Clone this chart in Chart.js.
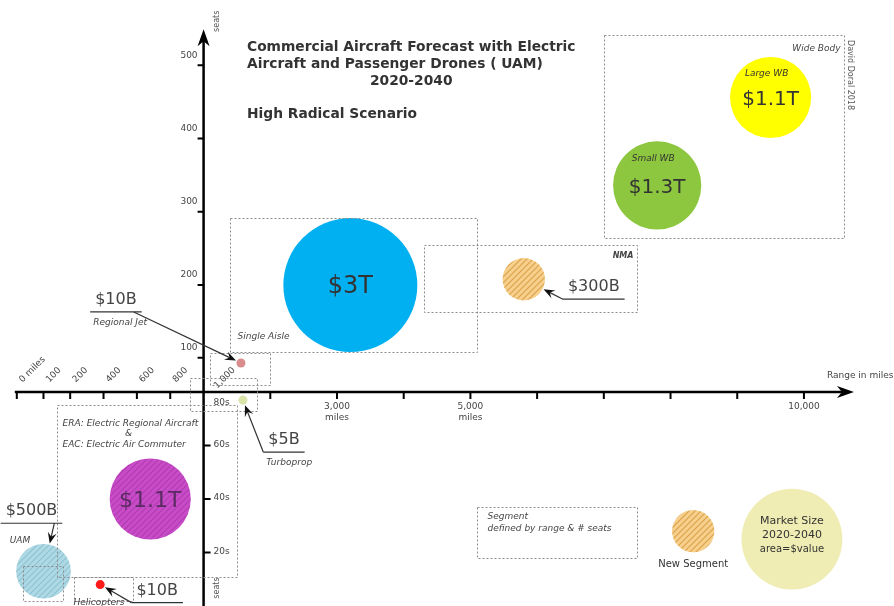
<!DOCTYPE html>
<html>
<head>
<meta charset="utf-8">
<script src="https://cdn.jsdelivr.net/npm/chart.js@4/dist/chart.umd.min.js"></script>
<style>
  html, body { margin: 0; padding: 0; background: #fff; overflow: hidden; }
  canvas { display: block; }
</style>
</head>
<body>
<canvas id="chart" width="894" height="606"></canvas>
<script>
// axis breaks - short ranges and low seat counts are stretched in this picture
const rangeTicks = [0, 100, 200, 400, 600, 800, 1000, 2000, 3000, 4000, 5000, 6000, 7000, 8000, 9000, 10000];
const rangeTickLabels = ['0 miles', '100', '200', '400', '600', '800', '1,000', '', '3,000\nmiles', '', '5,000\nmiles', '', '', '', '', '10,000'];
const rangeSteps = [-1.8, -1.4, -1, -0.5, 0, 0.5, 1, 2, 3, 4, 5, 6, 7, 8, 9, 10];
const seatTicks = [0, 20, 40, 60, 80, 100, 200, 300, 400, 500];
const seatTickLabels = ['', '20s', '40s', '60s', '80s', '100', '200', '300', '400', '500'];
const seatSteps = [0, 1, 2, 3, 4, 4.64, 6, 7.37, 8.74, 10.11];

// market bubbles (range in miles, seats, market 2020-2040 in $B)
const segments = ['Single Aisle', 'Small WB', 'Large WB', 'NMA', 'Regional Jet', 'Turboprop', 'ERA & EAC', 'UAM', 'Helicopters'];
const bubbleRange = [3200, 7800, 9500, 5800, 1560, 1590, 680, 100, 380];
const bubbleSeats = [200, 336, 456, 208, 97, 77, 40, 13, 8];
const marketValueB = [3000, 1300, 1100, 300, 10, 5, 1100, 500, 10];
const valueLabels = ['$3T', '$1.3T', '$1.1T', '$300B', '$10B', '$5B', '$1.1T', '$500B', '$10B'];

// segment boxes (range & seats)
const boxNames = ['Single Aisle', 'NMA', 'Wide Body', 'Regional Jet', 'Turboprop', 'ERA & EAC', 'UAM', 'Helicopters', 'Segment'];
const boxRangeFrom = [1400, 4300, 7000, 1100, 920, 150, 22, 224, 5100];
const boxRangeTo = [5100, 7500, 10600, 2000, 1800, 1500, 172, 577, 7500];
const boxSeatsFrom = [108, 163, 264, 84, 73, 11, 2, 2, 18];
const boxSeatsTo = [291, 255, 541, 107, 88, 75, 15, 11, 37];

// legend bubbles
const legendNames = ['New Segment', 'Market Size'];
const legendRange = [8340, 9820];
const legendSeats = [28, 25];
const legendValueB = [300, 1700];

function interp(v, xs, ys) {
  let i = 1;
  while (i < xs.length - 1 && v > xs[i]) i++;
  const t = (v - xs[i - 1]) / (xs[i] - xs[i - 1]);
  return ys[i - 1] + t * (ys[i] - ys[i - 1]);
}
const rangePos = m => interp(m, rangeTicks, rangeSteps);
const seatPos = s => interp(s, seatTicks, seatSteps);
// area = $value
const radius = v => Math.max(4.5, 1.223 * Math.sqrt(v));

function hatch(base, stripe) {
  const c = document.createElement('canvas');
  c.width = c.height = 6;
  const g = c.getContext('2d');
  g.fillStyle = base;
  g.fillRect(0, 0, 6, 6);
  g.strokeStyle = stripe;
  g.lineWidth = 1.2;
  g.beginPath();
  g.moveTo(0, 6); g.lineTo(6, 0);
  g.moveTo(-3, 3); g.lineTo(3, -3);
  g.moveTo(3, 9); g.lineTo(9, 3);
  g.stroke();
  return g.createPattern(c, 'repeat');
}

const newSegFill = hatch('#f6d08c', '#dca24c');
const bubbleFill = ['#00b0f0', '#8dc63f', '#ffff00', newSegFill, '#d98c8c', '#d8e4a8',
  hatch('#c84cc8', '#b23cb2'), hatch('#afd9e4', '#8ec3d3'), '#ff1a1a'];
const legendFill = [newSegFill, '#efedb3'];

// label layout
const labelMode = ['inside', 'inside', 'inside', 'callout', 'callout', 'callout', 'inside', 'callout', 'callout'];
const calloutDx = [0, 0, 0, 70, -125, 41, 0, -12, 57];
const calloutDy = [0, 0, 0, 8, -63, 40, 0, -60, 6];
const innerSize = [24, 20, 20, 0, 0, 0, 22, 0, 0];
const innerColor = ['#333', '#333', '#333', '', '', '', '#5a2a62', '', ''];
const bubbleCaption = ['', 'Small WB', 'Large WB', '', 'Regional Jet', 'Turboprop', '', 'UAM', ''];
const boxCaption = ['Single Aisle', 'NMA', 'Wide Body', '', '', 'ERA: Electric Regional Aircraft\n&\nEAC: Electric Air Commuter', '', 'Helicopters', 'Segment\ndefined by range & # seats'];
const boxCorner = ['bl', 'tr', 'tr', '', '', 'tl', '', 'below', 'tl'];

const FONT = '"DejaVu Sans", Verdana, sans-serif';

function drawAxes(chart) {
  const ctx = chart.ctx;
  const X = m => chart.scales.x.getPixelForValue(rangePos(m));
  const Y = s => chart.scales.y.getPixelForValue(seatPos(s));
  const ax = X(1000), ay = Y(80);
  ctx.save();
  ctx.strokeStyle = '#000';
  ctx.fillStyle = '#000';
  ctx.lineWidth = 2.5;
  // range axis
  const tipX = X(10000) + 50;
  ctx.beginPath();
  ctx.moveTo(X(0) - 2, ay);
  ctx.lineTo(tipX - 10, ay);
  ctx.stroke();
  ctx.beginPath();
  ctx.moveTo(tipX, ay);
  ctx.lineTo(tipX - 17, ay - 6);
  ctx.lineTo(tipX - 12, ay);
  ctx.lineTo(tipX - 17, ay + 6);
  ctx.closePath();
  ctx.fill();
  // seats axis
  const tipY = Y(500) - 36;
  ctx.beginPath();
  ctx.moveTo(ax, chart.chartArea.bottom);
  ctx.lineTo(ax, tipY + 10);
  ctx.stroke();
  ctx.beginPath();
  ctx.moveTo(ax, tipY);
  ctx.lineTo(ax - 6, tipY + 17);
  ctx.lineTo(ax, tipY + 12);
  ctx.lineTo(ax + 6, tipY + 17);
  ctx.closePath();
  ctx.fill();

  ctx.lineWidth = 2;
  ctx.beginPath();
  rangeTicks.forEach(m => {
    if (m === 1000) return;
    ctx.moveTo(X(m), ay);
    ctx.lineTo(X(m), ay + 7);
  });
  seatTicks.forEach(s => {
    if (s > 80) { ctx.moveTo(ax - 6, Y(s)); ctx.lineTo(ax, Y(s)); }
    else if (s > 0 && s < 80) { ctx.moveTo(ax, Y(s)); ctx.lineTo(ax + 7, Y(s)); }
  });
  ctx.stroke();

  // tick labels
  ctx.fillStyle = '#444';
  ctx.font = '9px ' + FONT;
  rangeTicks.forEach((m, i) => {
    const txt = rangeTickLabels[i];
    if (!txt) return;
    if (m <= 1000) {
      ctx.save();
      if (m === 1000) ctx.translate(X(m) + 12, ay - 5);
      else ctx.translate(X(m) + 4, ay - 11);
      ctx.rotate(-Math.PI / 4);
      ctx.textAlign = 'left';
      ctx.textBaseline = 'middle';
      ctx.fillText(txt, 0, 0);
      ctx.restore();
    } else {
      ctx.textAlign = 'center';
      ctx.textBaseline = 'middle';
      txt.split('\n').forEach((t, k) => ctx.fillText(t, X(m), ay + 15 + k * 11));
    }
  });
  seatTicks.forEach((s, i) => {
    const txt = seatTickLabels[i];
    if (!txt) return;
    ctx.textBaseline = 'middle';
    if (s > 80) {
      ctx.textAlign = 'right';
      ctx.fillText(txt, ax - 6, Y(s) - 10);
    } else {
      ctx.textAlign = 'left';
      ctx.fillText(txt, ax + 10, s === 80 ? Y(s) + 11 : Y(s) - 1);
    }
  });
  ctx.textAlign = 'left';
  ctx.fillText('Range in miles', X(10000) + 23, ay - 16);
  // seats captions
  ctx.font = '8px ' + FONT;
  ctx.fillStyle = '#555';
  [[tipY - 8], [chart.chartArea.bottom - 18]].forEach(([cy]) => {
    ctx.save();
    ctx.translate(ax + 13, cy);
    ctx.rotate(-Math.PI / 2);
    ctx.textAlign = 'center';
    ctx.textBaseline = 'middle';
    ctx.fillText('seats', 0, 0);
    ctx.restore();
  });
  ctx.restore();
}

function drawBoxes(chart) {
  const ctx = chart.ctx;
  const X = m => chart.scales.x.getPixelForValue(rangePos(m));
  const Y = s => chart.scales.y.getPixelForValue(seatPos(s));
  ctx.save();
  ctx.strokeStyle = '#8c8c8c';
  ctx.lineWidth = 1;
  ctx.setLineDash([2, 2]);
  boxNames.forEach((n, i) => {
    const x0 = Math.round(X(boxRangeFrom[i])) + 0.5, x1 = Math.round(X(boxRangeTo[i])) + 0.5;
    const y0 = Math.round(Y(boxSeatsTo[i])) + 0.5, y1 = Math.round(Y(boxSeatsFrom[i])) + 0.5;
    ctx.strokeRect(x0, y0, x1 - x0, y1 - y0);
    const cap = boxCaption[i];
    if (!cap) return;
    ctx.fillStyle = '#444';
    ctx.textBaseline = 'middle';
    const lines = cap.split('\n');
    if (boxCorner[i] === 'bl') {
      ctx.font = 'italic 9px ' + FONT;
      ctx.textAlign = 'left';
      ctx.fillText(cap, x0 + 7, y1 - 16);
    } else if (boxCorner[i] === 'tr') {
      ctx.font = (n === 'NMA' ? 'italic bold 8px ' : 'italic 9px ') + FONT;
      ctx.textAlign = 'right';
      ctx.fillText(cap, x1 - 4, y0 + (n === 'NMA' ? 10 : 13));
    } else if (boxCorner[i] === 'tl') {
      ctx.font = 'italic 9px ' + FONT;
      ctx.textAlign = 'left';
      const top = n === 'Segment' ? 9 : 18;
      lines.forEach((t, k) => {
        if (t === '&') { ctx.textAlign = 'center'; ctx.fillText(t, x0 + 71, y0 + top + k * 10.5); ctx.textAlign = 'left'; }
        else ctx.fillText(t, x0 + (n === 'Segment' ? 10 : 5), y0 + top + k * (n === 'Segment' ? 12 : 10.5));
      });
    } else if (boxCorner[i] === 'below') {
      ctx.font = 'italic 9px ' + FONT;
      ctx.textAlign = 'left';
      ctx.fillText(cap, x0 - 1, y1 + 1);
    }
  });
  ctx.restore();
}

function arrow(ctx, sx, sy, ex, ey) {
  const a = Math.atan2(ey - sy, ex - sx);
  ctx.beginPath();
  ctx.moveTo(sx, sy);
  ctx.lineTo(ex - Math.cos(a) * 4, ey - Math.sin(a) * 4);
  ctx.stroke();
  ctx.beginPath();
  ctx.moveTo(ex, ey);
  ctx.lineTo(ex - 12 * Math.cos(a - 0.38), ey - 12 * Math.sin(a - 0.38));
  ctx.lineTo(ex - 7 * Math.cos(a), ey - 7 * Math.sin(a));
  ctx.lineTo(ex - 12 * Math.cos(a + 0.38), ey - 12 * Math.sin(a + 0.38));
  ctx.closePath();
  ctx.fill();
}

function drawLabels(chart) {
  const ctx = chart.ctx;
  const pts = chart.getDatasetMeta(0).data;
  ctx.save();
  segments.forEach((s, i) => {
    const p = pts[i];
    const r = radius(marketValueB[i]);
    if (labelMode[i] === 'inside') {
      ctx.textAlign = 'center';
      ctx.textBaseline = 'middle';
      ctx.fillStyle = innerColor[i];
      ctx.font = innerSize[i] + 'px ' + FONT;
      ctx.fillText(valueLabels[i], p.x, p.y + 2);
      if (bubbleCaption[i]) {
        ctx.font = 'italic 9px ' + FONT;
        ctx.fillStyle = '#333';
        ctx.fillText(bubbleCaption[i], p.x - 4, p.y - r * 0.6);
      }
    } else {
      const lx = p.x + calloutDx[i], ly = p.y + calloutDy[i];
      ctx.font = '16px ' + FONT;
      ctx.fillStyle = '#444';
      ctx.textAlign = 'center';
      ctx.textBaseline = 'middle';
      ctx.fillText(valueLabels[i], lx, ly);
      const w = ctx.measureText(valueLabels[i]).width;
      const uy = ly + 12, ul = lx - w / 2 - 5, ur = lx + w / 2 + 5;
      ctx.strokeStyle = '#333';
      ctx.fillStyle = '#111';
      ctx.lineWidth = 1.2;
      ctx.beginPath();
      ctx.moveTo(ul, uy);
      ctx.lineTo(ur, uy);
      ctx.stroke();
      const sx = calloutDx[i] < 0 ? ur - 8 : ul;
      const a = Math.atan2(uy - p.y, sx - p.x);
      arrow(ctx, sx, uy, p.x + Math.cos(a) * (r + 1), p.y + Math.sin(a) * (r + 1));
      if (bubbleCaption[i]) {
        ctx.font = 'italic 9px ' + FONT;
        ctx.fillStyle = '#444';
        ctx.textAlign = 'left';
        if (i === 7) ctx.fillText(bubbleCaption[i], ul + 9, uy + 17);
        else ctx.fillText(bubbleCaption[i], ul + 3, uy + 11);
      }
    }
  });

  // legend texts
  const lp = chart.getDatasetMeta(1).data;
  ctx.fillStyle = '#333';
  ctx.textAlign = 'center';
  ctx.textBaseline = 'middle';
  ctx.font = '10px ' + FONT;
  ctx.fillText(legendNames[0], lp[0].x, lp[0].y + radius(legendValueB[0]) + 12);
  ctx.font = '11px ' + FONT;
  ctx.fillText(legendNames[1], lp[1].x, lp[1].y - 18);
  ctx.fillText('2020-2040', lp[1].x, lp[1].y - 4);
  ctx.font = '10px ' + FONT;
  ctx.fillText('area=$value', lp[1].x, lp[1].y + 10);

  // title
  ctx.fillStyle = '#333';
  ctx.font = 'bold 13.8px ' + FONT;
  ctx.textAlign = 'left';
  ctx.fillText('Commercial Aircraft Forecast with Electric', 247, 47);
  ctx.fillText('Aircraft and Passenger Drones ( UAM)', 247, 64);
  const w1 = ctx.measureText('Commercial Aircraft Forecast with Electric').width;
  ctx.textAlign = 'center';
  ctx.fillText('2020-2040', 247 + w1 / 2, 81);
  ctx.textAlign = 'left';
  ctx.fillText('High Radical Scenario', 247, 114);

  // credit
  ctx.save();
  ctx.font = '8px ' + FONT;
  ctx.fillStyle = '#555';
  ctx.translate(850, 40);
  ctx.rotate(Math.PI / 2);
  ctx.textAlign = 'left';
  ctx.fillText('David Doral 2018', 0, 0);
  ctx.restore();
  ctx.restore();
}

const scheme = {
  id: 'scheme',
  beforeDatasetsDraw(chart) { drawAxes(chart); },
  afterDatasetsDraw(chart) { drawBoxes(chart); drawLabels(chart); }
};

new Chart(document.getElementById('chart'), {
  type: 'bubble',
  data: {
    datasets: [
      {
        label: 'Segments',
        data: segments.map((s, i) => ({ x: rangePos(bubbleRange[i]), y: seatPos(bubbleSeats[i]), r: radius(marketValueB[i]) })),
        backgroundColor: bubbleFill,
        borderWidth: 0
      },
      {
        label: 'Legend',
        data: legendNames.map((s, i) => ({ x: rangePos(legendRange[i]), y: seatPos(legendSeats[i]), r: radius(legendValueB[i]) })),
        backgroundColor: legendFill,
        borderWidth: 0
      }
    ]
  },
  options: {
    responsive: false,
    animation: false,
    devicePixelRatio: 1,
    events: [],
    layout: { padding: 0, autoPadding: false },
    clip: false,
    plugins: { legend: { display: false }, tooltip: { enabled: false } },
    scales: {
      x: { type: 'linear', display: false, min: -2.052, max: 11.35 },
      y: { type: 'linear', display: false, min: 0, max: 11.33 }
    }
  },
  plugins: [scheme]
});
</script>
</body>
</html>
